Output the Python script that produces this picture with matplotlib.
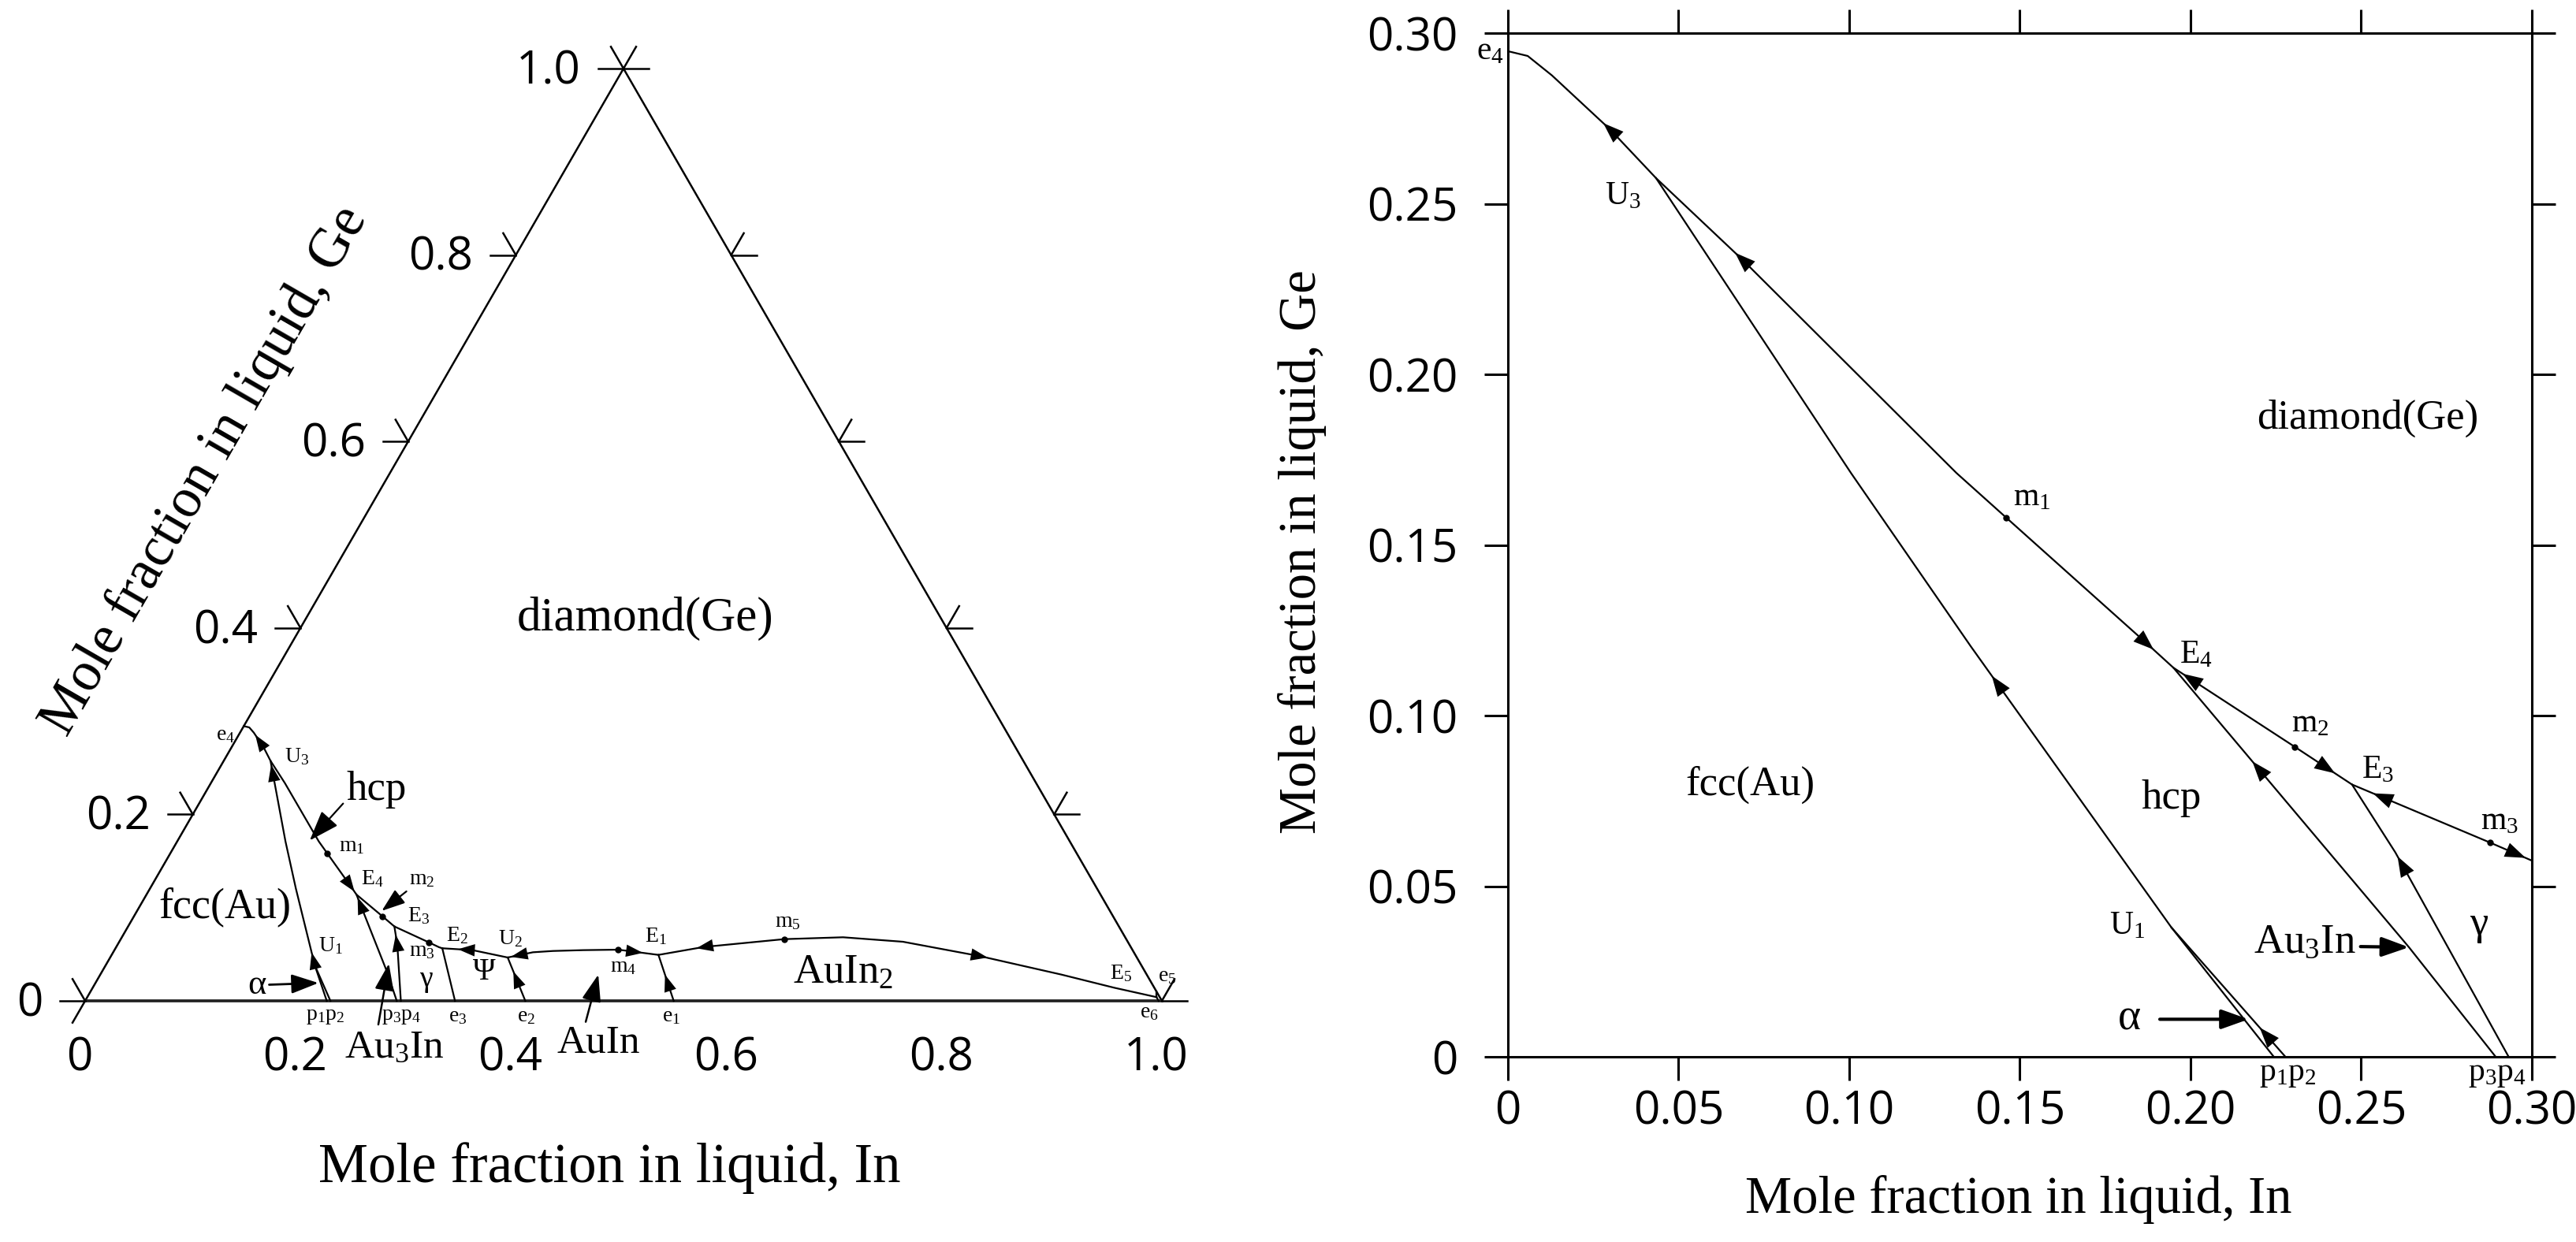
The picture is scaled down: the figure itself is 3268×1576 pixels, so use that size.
import numpy as np
import matplotlib
matplotlib.use("Agg")
import matplotlib.pyplot as plt

plt.rcParams['font.family'] = ['Liberation Serif', 'DejaVu Serif']
plt.rcParams['mathtext.fontset'] = 'custom'
plt.rcParams['mathtext.rm'] = 'Liberation Serif'
plt.rcParams['mathtext.it'] = 'Liberation Serif:italic'
plt.rcParams['mathtext.bf'] = 'Liberation Serif:bold'
plt.rcParams['mathtext.default'] = 'regular'
TICK_FONT = ['Open Sans', 'DejaVu Sans']

# ---------------- data: univariant liquidus lines (x_In, x_Ge) ----------------
main_in = [0.0, 0.0058, 0.0129, 0.030, 0.0434, 0.0686, 0.1314, 0.146, 0.1871, 0.195,
           0.2306, 0.2473, 0.2877, 0.300, 0.3035]
main_ge = [0.2947, 0.2933, 0.2876, 0.2717, 0.2575, 0.2337, 0.1711, 0.158, 0.1212, 0.114,
           0.0908, 0.0798, 0.0628, 0.0575, 0.0564]
inrich_in = [0.3035, 0.3326, 0.3692, 0.3898, 0.4077, 0.4353, 0.4677, 0.5078, 0.5457,
             0.5809, 0.6162, 0.6698, 0.7278, 0.8074, 0.8925, 0.9486, 0.993]
inrich_ge = [0.0564, 0.0544, 0.0465, 0.0521, 0.0535, 0.0544, 0.0549, 0.0493, 0.0578,
             0.0620, 0.0662, 0.0682, 0.0634, 0.0479, 0.0282, 0.0141, 0.004]
fcc_hcp_in = [0.0434, 0.1005, 0.1356, 0.1944, 0.2244]
fcc_hcp_ge = [0.2575, 0.1711, 0.1203, 0.0379, 0.0]
u1_p2_in = [0.1944, 0.2278]
u1_p2_ge = [0.0379, 0.0]
e4_p3_in = [0.195, 0.264, 0.2894]
e4_p3_ge = [0.114, 0.0321, 0.0]
e3_p4_in = [0.2473, 0.26, 0.2932]
e3_p4_ge = [0.0798, 0.0599, 0.0]
e2_e3_in = [0.3035, 0.3435]
e2_e3_ge = [0.0564, 0.0]
u2_e2_in = [0.3692, 0.4088]
u2_e2_ge = [0.0465, 0.0]
e1_e1_in = [0.5078, 0.5466]
e1_e1_ge = [0.0493, 0.0]
e5_e6_in = [0.993, 0.997]
e5_e6_ge = [0.004, 0.0]
e5_e5_in = [0.990, 0.993]
e5_e5_ge = [0.010, 0.004]

max_in = [0.146, 0.2306, 0.2877, 0.4677, 0.6162]
max_ge = [0.158, 0.0908, 0.0628, 0.0549, 0.0662]

tern_ticks = [0, 0.2, 0.4, 0.6, 0.8, 1.0]
tern_labels = ['0', '0.2', '0.4', '0.6', '0.8', '1.0']
zoom_ticks = [0, 0.05, 0.10, 0.15, 0.20, 0.25, 0.30]
zoom_labels = ['0', '0.05', '0.10', '0.15', '0.20', '0.25', '0.30']

lines = {
    'main': (main_in, main_ge), 'inrich': (inrich_in, inrich_ge),
    'fcc_hcp': (fcc_hcp_in, fcc_hcp_ge), 'u1_p2': (u1_p2_in, u1_p2_ge),
    'e4_p3': (e4_p3_in, e4_p3_ge), 'e3_p4': (e3_p4_in, e3_p4_ge),
    'e2_e3': (e2_e3_in, e2_e3_ge), 'u2_e2': (u2_e2_in, u2_e2_ge),
    'e1_e1': (e1_e1_in, e1_e1_ge), 'e5_e6': (e5_e6_in, e5_e6_ge),
    'e5_e5': (e5_e5_in, e5_e5_ge),
}

# arrow heads: (line, x_In position, points back toward start of line)
tern_arrows = [('main', 0.0226, True), ('main', 0.1843, False),
               ('fcc_hcp', 0.0514, True), ('fcc_hcp', 0.190, True),
               ('e4_p3', 0.2039, True), ('e3_p4', 0.2581, True),
               ('inrich', 0.3258, True), ('inrich', 0.3778, True),
               ('inrich', 0.4848, False), ('inrich', 0.5457, True),
               ('inrich', 0.8074, False), ('u2_e2', 0.3883, True),
               ('e1_e1', 0.5306, True)]
zoom_arrows = [('main', 0.030, True), ('main', 0.0686, True), ('main', 0.1871, False),
               ('main', 0.200, True), ('main', 0.240, False), ('main', 0.256, True),
               ('main', 0.2956, False), ('fcc_hcp', 0.1434, True),
               ('e4_p3', 0.2199, True), ('e3_p4', 0.262, True), ('u1_p2', 0.2221, True)]


def tern(i, g):
    i = np.asarray(i, float)
    g = np.asarray(g, float)
    return i + g / 2.0, g * np.sqrt(3) / 2.0


def ident(i, g):
    return np.asarray(i, float), np.asarray(g, float)


def head(ax, xs, ys, at_in, back, conv, size, eps):
    xs = np.asarray(xs, float)
    ys = np.asarray(ys, float)
    k = int(np.clip(np.searchsorted(xs, at_in), 1, len(xs) - 1))
    g = np.interp(at_in, xs, ys)
    d = np.array([xs[k] - xs[k - 1], ys[k] - ys[k - 1]])
    p0 = np.array(conv(at_in, g), float)
    p1 = np.array(conv(at_in + d[0] * 1e-3, g + d[1] * 1e-3), float)
    v = p1 - p0
    v /= np.hypot(*v)
    if back:
        v = -v
    ax.annotate('', xy=tuple(p0 + v * eps), xytext=tuple(p0 - v * eps),
                arrowprops=dict(arrowstyle='-|>,head_length=0.55,head_width=0.2',
                                mutation_scale=size, fc='k', ec='none', lw=0,
                                shrinkA=0, shrinkB=0), annotation_clip=False)


def pointer(ax, tail, tip, lw, size):
    ax.annotate('', xy=tip, xytext=tail,
                arrowprops=dict(arrowstyle='-|>,head_length=0.7,head_width=0.25',
                                lw=lw, color='k', mutation_scale=size,
                                shrinkA=0, shrinkB=0), annotation_clip=False)


W, H = 3268, 1576
fig = plt.figure(figsize=(W / 100, H / 100), dpi=100)

# ======================= left: ternary projection =======================
S = 1366.0
x0px, y0px = 108.0, 1270.0
axL = fig.add_axes([0, 0, 1650 / W, 1])
axL.set_xlim(-x0px / S, (1650 - x0px) / S)
axL.set_ylim((y0px - H) / S, y0px / S)
axL.axis('off')

LW = 1.8
axL.plot(*tern([0, 1, 0, 0], [0, 0, 1, 0]), color='k', lw=LW, solid_joinstyle='miter')
axL.plot(*tern([0, 1], [0, 0]), color='#222222', lw=2.6)
L = 0.0234
for g, lab in zip(tern_ticks, tern_labels):
    xl, yl = tern(0, g)
    axL.plot([xl - L, xl], [yl, yl], color='k', lw=LW)
    axL.plot([xl, xl + L * np.cos(2 * np.pi / 3)], [yl, yl + L * np.sin(2 * np.pi / 3)],
             color='k', lw=LW)
    xr, yr = tern(1 - g, g)
    axL.plot([xr, xr + L], [yr, yr], color='k', lw=LW)
    axL.plot([xr, xr + L * np.cos(np.pi / 3)], [yr, yr + L * np.sin(np.pi / 3)],
             color='k', lw=LW)
    axL.text(xl - 0.0395, yl - 0.003, lab, ha='right', va='center',
             family=TICK_FONT, fontsize=42)
axL.plot([0, L * np.cos(4 * np.pi / 3)], [0, L * np.sin(4 * np.pi / 3)], color='k', lw=LW)
for v, lab in zip(tern_ticks, tern_labels):
    axL.text(v - 0.005, -0.0534, lab, ha='center', va='center',
             family=TICK_FONT, fontsize=42)

for name, (xi, gi) in lines.items():
    axL.plot(*tern(xi, gi), color='k', lw=1.6)
axL.plot(*tern(max_in, max_ge), 'o', color='k', ms=5)
for name, at, back in tern_arrows:
    head(axL, lines[name][0], lines[name][1], at, back, tern, 28, 0.007)

tern_text = [
    ('e$_4$', 0.130, 0.247, 20), ('U$_3$', 0.197, 0.227, 20), ('hcp', 0.2706, 0.1963, 38),
    ('m$_1$', 0.2477, 0.144, 20), ('E$_4$', 0.2667, 0.1131, 20), ('m$_2$', 0.3131, 0.1131, 20),
    ('E$_3$', 0.3098, 0.0787, 20), ('E$_2$', 0.3458, 0.0608, 20), ('U$_2$', 0.3947, 0.0575, 20),
    ('m$_3$', 0.3131, 0.0461, 20), ('γ', 0.3164, 0.0198, 27), ('Ψ', 0.3703, 0.0264, 28),
    ('fcc(Au)', 0.1301, 0.0869, 39), ('U$_1$', 0.2281, 0.0510, 20), ('α', 0.1595, 0.015, 32),
    ('p$_1$p$_2$', 0.2233, -0.0144, 20), ('p$_3$p$_4$', 0.2936, -0.0144, 20),
    ('e$_3$', 0.3458, -0.0144, 20), ('e$_2$', 0.4095, -0.0144, 20),
    ('Au$_3$In', 0.2873, -0.0439, 37), ('AuIn', 0.4766, -0.039, 37),
    ('m$_4$', 0.4999, 0.0318, 20), ('E$_1$', 0.5302, 0.0599, 20), ('e$_1$', 0.5442, -0.0146, 20),
    ('m$_5$', 0.6523, 0.0732, 20), ('AuIn$_2$', 0.7040, 0.0256, 38), ('E$_5$', 0.9621, 0.0256, 20),
    ('e$_5$', 1.0047, 0.0232, 20), ('e$_6$', 0.9883, -0.011, 20),
    ('diamond(Ge)', 0.520, 0.355, 44),
]
for s, x, y, fs in tern_text:
    axL.text(x, y, s, ha='center', va='center', fontsize=fs)

pointer(axL, (0.2396, 0.1833), (0.2086, 0.149), 1.6, 34)
pointer(axL, (0.2984, 0.1017), (0.2755, 0.0836), 1.6, 26)
pointer(axL, (0.1709, 0.015), (0.2167, 0.0166), 2.0, 30)
pointer(axL, (0.2723, -0.022), (0.2821, 0.0346), 1.8, 30)
pointer(axL, (0.4649, -0.0195), (0.4766, 0.0244), 1.8, 30)

axL.text(0.4868, -0.155, 'Mole fraction in liquid, In', ha='center', va='center', fontsize=51)
axL.text(0.1110, 0.4920, 'Mole fraction in liquid, Ge', rotation=60, rotation_mode='anchor',
         ha='center', va='center', fontsize=51)

# ======================= right: Au-rich corner =======================
axR = fig.add_axes([1913 / W, (H - 1341) / H, 1299 / W, 1299 / H])
axR.set_xlim(0, 0.30)
axR.set_ylim(0, 0.30)
for sp in axR.spines.values():
    sp.set_linewidth(2.2)
axR.set_xticks(zoom_ticks, zoom_labels, family=TICK_FONT, fontsize=42)
axR.set_yticks(zoom_ticks, zoom_labels, family=TICK_FONT, fontsize=42)
axR.tick_params(which='both', direction='out', length=21.6, width=2.2,
                top=True, right=True, labeltop=False, labelright=False)
axR.tick_params(axis='x', pad=8)
axR.tick_params(axis='y', pad=24)

for name, (xi, gi) in lines.items():
    axR.plot(xi, gi, color='k', lw=1.6)
axR.plot(max_in, max_ge, 'o', color='k', ms=5)
for name, at, back in zoom_arrows:
    head(axR, lines[name][0], lines[name][1], at, back, ident, 34, 0.0028)

zoom_text = [
    ('U$_3$', 0.0336, 0.2522, 30), ('m$_1$', 0.1536, 0.1639, 30), ('E$_4$', 0.2017, 0.1178, 30),
    ('m$_2$', 0.235, 0.0977, 30), ('E$_3$', 0.2548, 0.084, 30), ('m$_3$', 0.2906, 0.069, 30),
    ('hcp', 0.1944, 0.0757, 38), ('γ', 0.2844, 0.0388, 38), ('Au$_3$In', 0.2334, 0.0336, 38),
    ('U$_1$', 0.1814, 0.0383, 30), ('α', 0.182, 0.0111, 40),
    ('p$_1$p$_2$', 0.2284, -0.0051, 30), ('p$_3$p$_4$', 0.2898, -0.0051, 30),
    ('diamond(Ge)', 0.252, 0.187, 38), ('fcc(Au)', 0.0709, 0.0797, 38),
]
for s, x, y, fs in zoom_text:
    axR.text(x, y, s, ha='center', va='center', fontsize=fs)
axR.text(-0.0012, 0.2947, 'e$_4$', ha='right', va='center', fontsize=30)

pointer(axR, (0.191, 0.011), (0.217, 0.011), 3.0, 30)
pointer(axR, (0.2498, 0.0323), (0.264, 0.0321), 3.0, 30)

axR.set_xlabel('Mole fraction in liquid, In', fontsize=48)
axR.xaxis.set_label_coords(0.499, -0.139)
axR.xaxis.label.set_va('center')
axR.set_ylabel('Mole fraction in liquid, Ge', fontsize=48)
axR.yaxis.set_label_coords(-0.201, 0.4935)
axR.yaxis.label.set_va('center')

fig.savefig('out.png', dpi=100)
